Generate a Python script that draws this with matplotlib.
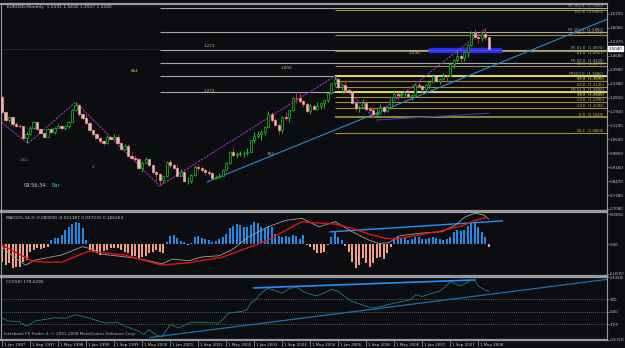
import numpy as np
import matplotlib.pyplot as plt
from matplotlib.patches import Rectangle
from matplotlib.transforms import blended_transform_factory

# EURUSD monthly, Jan 1997 .. Aug 2008 (one entry per month)
first_open = 1.265
closes = [
    1.191, 1.152, 1.166, 1.128, 1.122, 1.118, 1.062, 1.080, 1.112, 1.138, 1.104, 1.086,
    1.068, 1.104, 1.088, 1.112, 1.120, 1.108, 1.118, 1.140, 1.200, 1.225, 1.180, 1.160,
    1.135, 1.100, 1.080, 1.062, 1.045, 1.035, 1.068, 1.058, 1.066, 1.035, 1.008, 1.022,
    0.970, 0.962, 0.955, 0.910, 0.935, 0.955, 0.925, 0.892, 0.880, 0.852, 0.870, 0.940,
    0.925, 0.912, 0.874, 0.890, 0.846, 0.850, 0.877, 0.915, 0.910, 0.903, 0.893, 0.888,
    0.862, 0.868, 0.873, 0.901, 0.935, 0.993, 0.976, 0.982, 0.985, 0.988, 0.992, 1.049,
    1.073, 1.078, 1.090, 1.115, 1.180, 1.150, 1.125, 1.098, 1.165, 1.158, 1.198, 1.258,
    1.257, 1.245, 1.230, 1.196, 1.220, 1.205, 1.220, 1.232, 1.249, 1.282, 1.332, 1.355,
    1.312, 1.325, 1.296, 1.288, 1.232, 1.208, 1.214, 1.233, 1.204, 1.197, 1.180, 1.184,
    1.212, 1.193, 1.212, 1.262, 1.280, 1.275, 1.279, 1.281, 1.268, 1.276, 1.325, 1.320,
    1.302, 1.323, 1.336, 1.366, 1.345, 1.354, 1.369, 1.366, 1.426, 1.448, 1.465, 1.459,
    1.485, 1.521, 1.579, 1.561, 1.555, 1.577, 1.559, 1.504]
highs = [
    1.272, 1.196, 1.172, 1.170, 1.140, 1.130, 1.122, 1.092, 1.120, 1.145, 1.140, 1.108,
    1.090, 1.108, 1.108, 1.116, 1.128, 1.124, 1.122, 1.145, 1.205, 1.238, 1.228, 1.185,
    1.182, 1.138, 1.104, 1.085, 1.068, 1.050, 1.075, 1.072, 1.078, 1.080, 1.040, 1.030,
    1.032, 0.990, 0.975, 0.960, 0.945, 0.965, 0.958, 0.930, 0.902, 0.885, 0.875, 0.945,
    0.955, 0.938, 0.932, 0.905, 0.895, 0.865, 0.880, 0.925, 0.932, 0.920, 0.910, 0.902,
    0.890, 0.878, 0.885, 0.905, 0.940, 0.998, 1.018, 0.990, 0.995, 0.995, 1.010, 1.052,
    1.090, 1.095, 1.100, 1.120, 1.193, 1.190, 1.160, 1.135, 1.168, 1.188, 1.200, 1.262,
    1.290, 1.285, 1.248, 1.238, 1.228, 1.230, 1.238, 1.235, 1.250, 1.285, 1.334, 1.366,
    1.358, 1.330, 1.348, 1.310, 1.297, 1.235, 1.222, 1.252, 1.248, 1.218, 1.210, 1.202,
    1.230, 1.218, 1.220, 1.265, 1.298, 1.290, 1.290, 1.295, 1.290, 1.280, 1.329, 1.336,
    1.325, 1.330, 1.340, 1.368, 1.368, 1.357, 1.385, 1.375, 1.428, 1.450, 1.490, 1.475,
    1.490, 1.525, 1.590, 1.602, 1.578, 1.590, 1.604, 1.563]
lows = [
    1.185, 1.140, 1.140, 1.120, 1.115, 1.108, 1.055, 1.034, 1.075, 1.105, 1.098, 1.078,
    1.060, 1.065, 1.080, 1.082, 1.108, 1.102, 1.100, 1.110, 1.138, 1.195, 1.172, 1.150,
    1.128, 1.090, 1.070, 1.055, 1.035, 1.028, 1.032, 1.050, 1.050, 1.030, 1.002, 1.000,
    0.965, 0.955, 0.945, 0.905, 0.890, 0.930, 0.920, 0.882, 0.850, 0.823, 0.840, 0.868,
    0.912, 0.905, 0.870, 0.872, 0.842, 0.834, 0.840, 0.872, 0.895, 0.890, 0.875, 0.875,
    0.858, 0.856, 0.862, 0.870, 0.900, 0.932, 0.970, 0.962, 0.970, 0.965, 0.978, 0.990,
    1.036, 1.060, 1.050, 1.075, 1.110, 1.140, 1.122, 1.078, 1.086, 1.150, 1.138, 1.196,
    1.235, 1.235, 1.212, 1.185, 1.180, 1.198, 1.200, 1.205, 1.208, 1.238, 1.277, 1.320,
    1.302, 1.285, 1.285, 1.280, 1.230, 1.192, 1.190, 1.210, 1.198, 1.190, 1.164, 1.170,
    1.182, 1.183, 1.188, 1.208, 1.260, 1.251, 1.262, 1.270, 1.264, 1.250, 1.270, 1.306,
    1.290, 1.290, 1.306, 1.336, 1.340, 1.330, 1.350, 1.340, 1.366, 1.407, 1.437, 1.437,
    1.440, 1.462, 1.515, 1.550, 1.530, 1.540, 1.548, 1.495]

# MACD histogram, one bar per month
macd_hist = [
    -0.098, -0.116, -0.107, -0.135, -0.126, -0.126, -0.098, -0.088, -0.041, -0.032, -0.023, -0.026, -0.019, -0.013,
    0.024, 0.034, 0.038, 0.052, 0.081, 0.099, 0.115, 0.125, 0.118, 0.090, 0.024,
    -0.032, -0.041, -0.051, -0.060, -0.038, -0.032, -0.019, -0.019, -0.023, -0.032, -0.041,
    -0.051, -0.064, -0.064, -0.079, -0.069, -0.064, -0.051, -0.041, -0.032, -0.041, -0.051,
    0.015, 0.045, 0.055, 0.035, 0.020, 0.012, -0.005, 0.010, 0.040, 0.045, 0.035, 0.030,
    0.025, 0.015, 0.020, 0.030, 0.040,
    0.060, 0.090, 0.105, 0.115, 0.110, 0.100, 0.095, 0.110, 0.125, 0.120, 0.100, 0.085, 0.100, 0.095,
    0.060, 0.045, 0.040, 0.045, 0.040, 0.050, 0.045, 0.030, 0.053,
    -0.005, -0.013, -0.032, -0.051, -0.051, -0.041, -0.005, 0.043, 0.071, 0.043, 0.024, -0.008,
    -0.041, -0.098, -0.135, -0.116, -0.079, -0.107, -0.126, -0.107, -0.079, -0.069, -0.084, -0.051,
    -0.013, 0.034, 0.043, 0.034, 0.043, 0.024, 0.028, 0.043, 0.043, 0.028, 0.030, 0.034,
    0.043, 0.034, 0.028, 0.024, 0.028, 0.043, 0.071, 0.081, 0.077, 0.081, 0.105, 0.125,
    0.120, 0.100, 0.071, 0.043, -0.017]

# MACD lines, read as vertices (month index, value)
red_m = [0, 8.6, 12.4, 17, 24.8, 35, 45.7, 53, 62.9, 70, 76, 83.8, 85.7, 90.5, 95.2,
         100, 104.8, 109.5, 112.4, 119, 125.7, 131.4, 135, 138.4]
red_v = [-0.004, -0.094, -0.100, -0.100, -0.038, -0.060, -0.117, -0.104, -0.072, -0.021,
         0.024, 0.109, 0.127, 0.120, 0.114, 0.090, 0.058, 0.034, 0.030, 0.052, 0.077,
         0.105, 0.133, 0.152]
gray_m = [0, 3.8, 6.7, 9.5, 12.4, 17, 22.9, 25.7, 28.6, 32.4, 38, 41.9, 45.7, 48.6, 53.3,
          57, 62, 65.7, 70.5, 76, 81, 85.7, 90.5, 95.2, 100, 104.8, 107.6, 110.5, 113.3,
          119, 125.7, 129.5, 132.4, 135.2, 137.6, 139]
gray_v = [-0.015, -0.077, -0.117, -0.088, -0.077, -0.060, -0.013, -0.026, -0.056, -0.064,
          -0.077, -0.092, -0.110, -0.083, -0.092, -0.071, -0.064, -0.030, 0.043, 0.099,
          0.135, 0.146, 0.099, 0.127, 0.071, 0.024, 0.005, 0.009, 0.047, 0.062, 0.071,
          0.109, 0.156, 0.175, 0.165, 0.141]

# CCI(50) vertices
cci_m = [0, 1.9, 4.8, 7.1, 9.5, 12.4, 15.2, 18.1, 21, 22.9, 25.7, 29.5, 32.9, 35.2, 39,
         40.5, 41.9, 44.3, 45.7, 46.7, 48.1, 50.5, 53.3, 55.2, 61.9, 64.8, 68.6, 70, 71,
         72.4, 74, 76, 78, 80, 82, 84, 86, 88, 90, 92, 94, 96, 98, 100, 102.9, 105.7,
         108.6, 110, 113, 116.7, 118.1, 120, 122.9, 124.8, 126.7, 128.1, 129.5, 131,
         132.4, 133.8, 134.8, 136.2, 137.6, 139]
cci_v = [-51, -75, -80, -117, -75, -61, -48, -53, -24, -37, -59, -91, -85, -117, -157,
         -184, -144, -192, -203, -157, -104, -131, -91, -85, -91, -11, 3, 16, 69, 96,
         150, 190, 170, 150, 185, 200, 165, 140, 130, 150, 180, 165, 120, 82, 56, 29,
         45, 56, 75, 96, 136, 123, 149, 163, 203, 243, 224, 208, 229, 251, 261, 203,
         181, 165]

# zigzag pivots and trend lines (month index, price)
zigzag_m = [0, 7.4, 21, 45, 95, 106, 138]
zigzag_p = [1.135, 1.034, 1.238, 0.823, 1.366, 1.164, 1.600]
trend_m, trend_p = [58.6, 173.7], [0.843, 1.655]
navy_m, navy_p = [107, 139], [1.150, 1.183]
macd_trend_m, macd_trend_v = [93.7, 142.9], [0.070, 0.132]
cci_top_m, cci_top_v = [72, 135], [192, 256]
cci_long_m, cci_long_v = [42.3, 173.7], [-208, 264]

# fibonacci / expansion levels
gray_levels = [1.705, 1.586, 1.497, 1.432, 1.368, 1.289]
gray_labels = ['FE 161.8  (1.7050)', 'FE 100.0  (1.5860)', 'FE 61.8  (1.4970)',
               'FE 50.0  (1.4320)', 'FR100.0  (1.3680)', 'FR 61.8  (1.2890)']
fib_levels = [1.695, 1.571, 1.4917, 1.417, 1.368, 1.343, 1.313, 1.289, 1.264, 1.239,
              1.209, 1.164, 1.085]
fib_labels = ['161.8  (1.6950)', '200.0  (1.5710)', '61.8  (1.4917)', '50.0  (1.4170)',
              '38.2  (1.3680)', '61.8  (1.3430)', '50.0  (1.3130)', '23.6  (1.2890)',
              '38.2  (1.2640)', '23.6  (1.2390)', '23.6  (1.2090)', '0.0  (1.1640)',
              '-38.2  (1.0850)']

price_ticks = [1.6750, 1.6060, 1.5370, 1.4680, 1.3990, 1.3300, 1.2610, 1.1920, 1.1230,
               1.0540, 0.9850, 0.9160, 0.8470, 0.7780, 0.7090]
date_labels = ['1 Jan 1997', '1 Sep 1997', '1 May 1998', '1 Jan 1999', '1 Sep 1999',
               '1 May 2000', '1 Jan 2001', '1 Sep 2001', '1 May 2002', '1 Jan 2003',
               '1 Sep 2003', '1 May 2004', '1 Jan 2005', '1 Sep 2005', '1 May 2006',
               '1 Jan 2007', '1 Sep 2007', '1 May 2008']
date_months = [0, 8, 16, 24, 32, 40, 48, 56, 64, 72, 80, 88, 96, 104, 112, 120, 128, 136]

W, H = 625, 348
BG = '#0b0d10'
FG = '#c8c8c8'
fig = plt.figure(figsize=(W / 100, H / 100), dpi=100, facecolor=BG)


def panel(top, bottom):
    a = fig.add_axes([1 / W, 1 - bottom / H, 606 / W, (bottom - top) / H], facecolor=BG)
    a.set_xlim(-0.3, 172.8)
    a.set_xticks([])
    for s in a.spines.values():
        s.set_color('#9a9a9a')
        s.set_linewidth(0.8)
    a.spines['top'].set_linewidth(1.6)
    a.spines['bottom'].set_linewidth(1.6)
    a.yaxis.tick_right()
    a.tick_params(axis='y', colors='#9a9a9a', labelcolor=FG, labelsize=2.9,
                  length=1.5, width=0.5, pad=0.6)
    return a


ax = panel(4, 211)
ax_m = panel(212, 276)
ax_c = panel(277, 340)

# ---- price panel ----
ax.set_ylim(0.699, 1.7245)
ax.set_yticks(price_ticks)
ax.set_yticklabels([f'{t:.4f}' for t in price_ticks])

x = np.arange(len(closes))
c = np.array(closes)
o = np.array([first_open] + closes[:-1])
hi, lo = np.array(highs), np.array(lows)
up = c >= o

xe = 172.8
ax.hlines(gray_levels, 45, xe, color='#a8a8a8', lw=0.8, zorder=1)
for lev, lab in zip(gray_levels, gray_labels):
    ax.text(171.8, lev + 0.002, lab, color='#b0b0b0', fontsize=2.7, ha='right', va='bottom')
for lev, lab in zip(fib_levels, fib_labels):
    bright = lev in gray_levels
    near = min(abs(lev - g) for g in gray_levels) < 0.012
    ax.hlines(lev, 95, xe, color='#e8e070' if bright else '#9c8c3c',
              lw=1.3 if (bright or lev == 1.164) else 0.8, zorder=1.5)
    ax.text(171.8, lev - 0.002 if near else lev + 0.002, lab, color='#c8b850',
            fontsize=2.7, ha='right', va='top' if near else 'bottom')

ax.hlines(1.502, -0.3, 45, color='#6a2a70', lw=0.6, ls=(0, (1, 1)))
ax.add_patch(Rectangle((122, 1.487), 20.6, 0.020, color='#2a2af0', zorder=2))
ax.hlines(1.497, 122, 142.6, color='#8080ff', lw=0.6, ls=(0, (1, 1)), zorder=2.1)

ax.plot(zigzag_m, zigzag_p, color='#a030c0', lw=0.8, ls=(0, (2, 1)), zorder=3)
ax.plot(trend_m, trend_p, color='#2a8ad0', lw=0.8, zorder=3)
ax.plot(navy_m, navy_p, color='#30409a', lw=0.8, zorder=3)

ax.vlines(x[up], lo[up], hi[up], color='#18c018', lw=0.7, zorder=4)
ax.vlines(x[~up], lo[~up], hi[~up], color='#c82828', lw=0.7, zorder=4)
ax.bar(x[up], (c - o)[up], bottom=o[up], width=0.62, color=BG,
       edgecolor='#18c018', lw=0.5, zorder=5)
ax.bar(x[~up], (o - c)[~up], bottom=c[~up], width=0.62, color='#f4b4b4',
       edgecolor='#f4b4b4', lw=0.4, zorder=5)

for m, p, t, col in [(57.7, 1.516, '1.272', '#c8c080'), (79.7, 1.407, '1.000', '#c8c080'),
                     (57.7, 1.294, '1.272', '#c8c080'), (36.9, 1.393, '864', '#e0d040'),
                     (116.3, 1.482, '2.236', '#c8c080'), (4.9, 0.952, '1.62', '#8090a0'),
                     (25.7, 0.917, '2', '#80a040'), (75.7, 0.981, '382', '#a0a0a0')]:
    ax.text(m, p, t, color=col, fontsize=3.0, ha='left', va='center')

ax.text(1.5, 1.712, 'EURUSD,Monthly  1.5591 1.5630 1.4917 1.5040', color=FG,
        fontsize=3.2, ha='left', va='center')
ax.text(6.2, 0.823, '09:56:34', color='#d0d0d0', fontsize=3.6, ha='left', va='center')
ax.text(14.2, 0.823, 'Bar', color='#20c0c0', fontsize=3.6, ha='left', va='center')
ax.annotate('1.5040', xy=(1.0, 1.504), xycoords=('axes fraction', 'data'),
            xytext=(1.0, 0), textcoords='offset points', fontsize=2.9, color='black',
            va='center', ha='left', annotation_clip=False,
            bbox=dict(boxstyle='square,pad=0.1', fc='white', ec='white'))

# ---- MACD panel ----
ax_m.set_ylim(-0.178, 0.182)
ax_m.set_yticks([0.169264, 0.0, -0.165357])
ax_m.set_yticklabels(['0.169264', '0.00', '-0.165357'])
hist = np.array(macd_hist)
ax_m.bar(x, hist, width=0.55, color=np.where(hist >= 0, '#1e8ce6', '#f0a080'), zorder=2)
ax_m.plot(macd_trend_m, macd_trend_v, color='#1e90ff', lw=1.0, zorder=3)
ax_m.plot(gray_m, gray_v, color='#a0a0a0', lw=0.6, zorder=4)
ax_m.plot(red_m, red_v, color='#e81010', lw=1.0, zorder=5)
ax_m.text(0.008, 0.93, 'MACD(5,34,5) 0.080000 -0.021187 0.037231 0.166264',
          transform=ax_m.transAxes, color=FG, fontsize=3.1, ha='left', va='top')

# ---- CCI panel ----
ax_c.set_ylim(-228, 280)
ax_c.set_yticks([276.8446, 100, 0, -100, -224.7])
ax_c.set_yticklabels(['276.8446', '100', '0.00', '-100', '-224.7035'])
ax_c.hlines([100, 0, -100], -0.3, xe, color='#7a7a5a', lw=0.6, ls=(0, (1, 1.5)))
ax_c.plot(cci_long_m, cci_long_v, color='#1f6fb0', lw=0.9, zorder=2)
ax_c.plot(cci_top_m, cci_top_v, color='#1e90ff', lw=1.2, zorder=3)
ax_c.plot(cci_m, cci_v, color='#1a8080', lw=0.6, zorder=4)
ax_c.text(0.008, 0.95, 'CCI(50) 179.6290', transform=ax_c.transAxes, color=FG,
          fontsize=3.1, ha='left', va='top')
ax_c.text(0.005, 0.06, 'Interbank FX Trader 4, \u00a9 2001-2008 MetaQuotes Software Corp.',
          transform=ax_c.transAxes, color='#b0b0b0', fontsize=3.0, ha='left', va='bottom')

# long indicator tick labels: shrink so they fit the narrow right margin
for a in (ax_m, ax_c):
    for lab in a.get_yticklabels():
        if len(lab.get_text()) > 6:
            lab.set_fontsize(2.1)

tr = blended_transform_factory(ax_c.transData, ax_c.transAxes)
for m, lab in zip(date_months, date_labels):
    ax_c.plot([m, m], [0, -0.1], color='#9a9a9a', lw=0.5, transform=tr, clip_on=False)
    ax_c.text(m + 0.5, -0.04, lab, transform=tr, color=FG, fontsize=2.9,
              ha='left', va='top', clip_on=False)

fig.savefig('out.png', dpi=100, facecolor=BG)
